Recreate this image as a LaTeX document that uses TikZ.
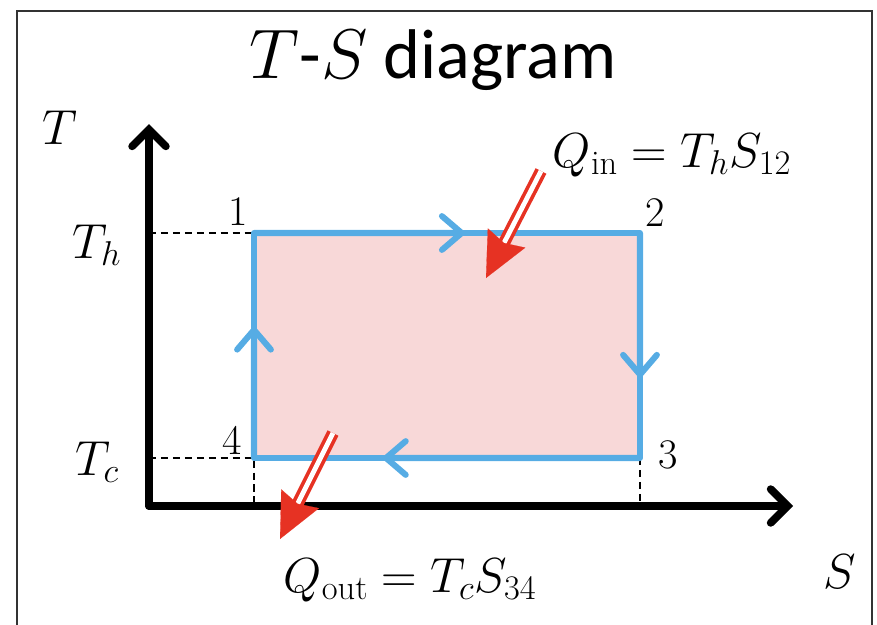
\RequirePackage{fix-cm}
\documentclass[tikz,border=0pt]{standalone}
\usepackage{amsmath}
\usepackage{fontspec}
\newfontfamily\calibri{Carlito}
\usetikzlibrary{arrows.meta,calc}
\definecolor{cycleblue}{RGB}{86,172,228}
\definecolor{cyclepink}{RGB}{248,216,216}
\definecolor{heatred}{RGB}{230,50,35}

\begin{document}
\begin{tikzpicture}[x=0.025cm,y=-0.025cm,
    axis/.style={line width=5.5pt,line cap=round,-{Straight Barb[length=12pt,width=24pt,line cap=round]}},
    cycleline/.style={cycleblue,line width=4.3pt},
    cycletip/.style={cycleline,-{Straight Barb[length=14pt,width=24pt,line cap=round]}},
    guide/.style={dashed,line width=1.2pt,dash pattern=on 5pt off 3.5pt},
    heatline/.style={heatred,line width=2.6pt,double=white,double distance=3.4pt},
    heattip/.style={heatred,line width=0.1pt,-{Stealth[length=32pt,width=30pt,inset=4pt]}},
    lbl/.style={font=\fontsize{35}{40}\selectfont},
    num/.style={font=\fontsize{30}{34}\selectfont}]
        \useasboundingbox (0,0) rectangle (877,625);
        % Frame
        \draw[black!80,line width=1.4pt] (17,640) -- (17,11) -- (872,11) -- (872,640);

        % Title
        \node[font=\calibri\fontsize{50}{56}\selectfont] (title) at (433,60) {$T$-$S$ diagram};

        % Corners of the cycle
        \coordinate (origin) at (149,506);
        \coordinate (c1) at (254,233);
        \coordinate (c2) at (640,233);
        \coordinate (c3) at (640,458);
        \coordinate (c4) at (254,458);

        % Area of the cycle
        \fill[cyclepink] (c1) rectangle (c3);

        % Guide lines
        \draw[guide] (c1 -| origin) -- (c1);
        \draw[guide] (c4 -| origin) -- (c4) -- (c4 |- origin);
        \draw[guide] (c3) -- (c3 |- origin);

        % Axes
        \coordinate (ytip) at (149,124);
        \coordinate (xtip) at (793,506);
        \draw[axis] (origin) -- (ytip);
        \draw[axis] (origin) -- (xtip);
        \node[lbl] (Tlabel) at (60,128) {$T$};
        \node[lbl] (Slabel) at (840,572) {$S$};
        \node[lbl] (Th) at (97,245) {$T_h$};
        \node[lbl] (Tc) at (97,462) {$T_c$};

        % Cycle with direction marks
        \draw[cycleline,line join=round] (c1) -- (c2) -- (c3) -- (c4) -- cycle;
        \draw[cycletip] (c1) -- ($(c1)!0.55!(c2)$);
        \draw[cycletip] (c2) -- ($(c2)!0.65!(c3)$);
        \draw[cycletip] (c3) -- ($(c3)!0.67!(c4)$);
        \draw[cycletip] (c4) -- ($(c4)!0.59!(c1)$);

        % State numbers
        \node[num] (n1) at (238,212) {1};
        \node[num] (n2) at (655,213) {2};
        \node[num] (n3) at (668,455) {3};
        \node[num] (n4) at (232,440) {4};

        % Heat in
        \coordinate (qinstart) at (541,171);
        \coordinate (qintip) at (486,278);
        \draw[heatline] (qinstart) -- ($(qintip)!24pt!(qinstart)$);
        \draw[heattip] ($(qintip)!2pt!(qinstart)$) -- (qintip);
        \node[lbl] (qin) at (672,155) {$Q_{\text{in}} = T_hS_{12}$};

        % Heat out
        \coordinate (qoutstart) at (333,433);
        \coordinate (qouttip) at (280,539);
        \draw[heatline] (qoutstart) -- ($(qouttip)!24pt!(qoutstart)$);
        \draw[heattip] ($(qouttip)!2pt!(qoutstart)$) -- (qouttip);
        \node[lbl] (qout) at (410,580) {$Q_{\text{out}} = T_cS_{34}$};
\end{tikzpicture}
\end{document}
